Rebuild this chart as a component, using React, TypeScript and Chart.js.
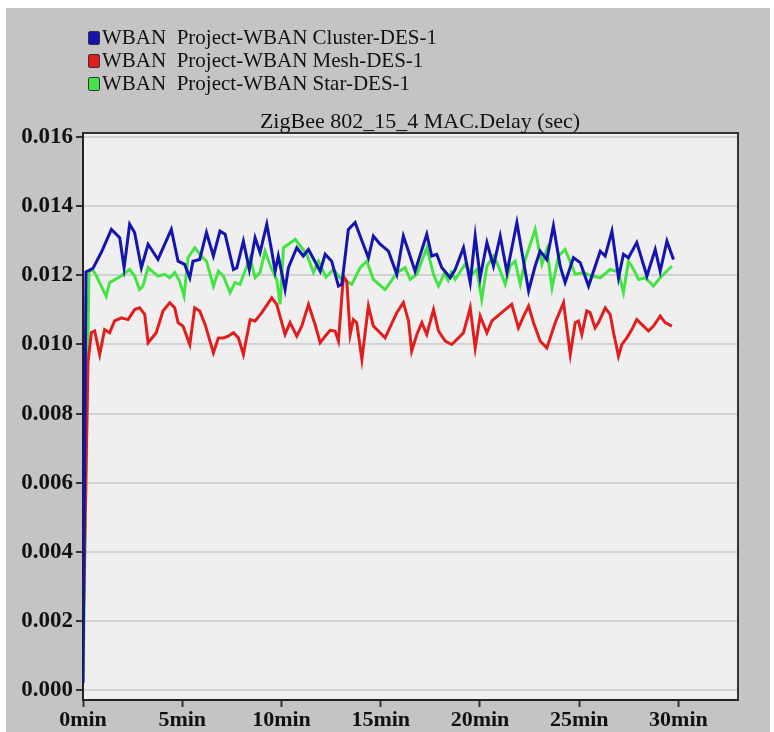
import React, { useEffect, useRef } from "react";
import { Chart, registerables } from "chart.js";

Chart.register(...registerables);

const seriesLabels = [
  "WBAN  Project-WBAN Cluster-DES-1",
  "WBAN  Project-WBAN Mesh-DES-1",
  "WBAN  Project-WBAN Star-DES-1",
];
const seriesColors = ["#1414ae", "#e01e1e", "#44e444"];
const chartTitle = "ZigBee 802_15_4 MAC.Delay (sec)";

const xTickValues = [0, 5, 10, 15, 20, 25, 30];
const yTickValues = [0, 0.002, 0.004, 0.006, 0.008, 0.01, 0.012, 0.014, 0.016];

// Cluster (blue)
const clusterTimes = [
  0, 0.15, 0.5, 0.92, 1.43, 1.85, 2.07, 2.35, 2.6, 2.94, 3.28, 3.78, 4.45, 4.79, 5.12, 5.38, 5.54, 5.88,
  6.22, 6.57, 6.9, 7.16, 7.58, 7.75, 8.08, 8.38, 8.67, 8.92, 9.26, 9.51, 9.68, 9.84, 10.18, 10.35, 10.77,
  11.1, 11.36, 11.95, 12.2, 12.53, 12.87, 13.04, 13.37, 13.71, 13.96, 14.38, 14.63, 14.97, 15.39, 15.81,
  16.14, 16.4, 16.73, 17.32, 17.57, 17.82, 18.08, 18.5, 18.75, 19.17, 19.51, 19.76, 20.01, 20.35, 20.68,
  21.02, 21.36, 21.86, 22.45, 22.78, 23.03, 23.37, 23.7, 24.04, 24.29, 24.71, 25.05, 25.47, 26.06, 26.31,
  26.65, 26.98, 27.23, 27.48, 27.9, 28.41, 28.83, 29.08, 29.42, 29.75,
];
const clusterValues = [
  0.0002, 0.0121, 0.0122, 0.01266, 0.01333, 0.01309, 0.01222, 0.01348, 0.01324, 0.01222, 0.0129, 0.01246,
  0.01333, 0.01241, 0.01232, 0.01193, 0.01241, 0.01246, 0.01324, 0.01256, 0.01328, 0.01319, 0.01217,
  0.01222, 0.01299, 0.01217, 0.01309, 0.01266, 0.01348, 0.0127, 0.01212, 0.01256, 0.01159, 0.01222,
  0.0128, 0.01256, 0.01275, 0.01212, 0.01261, 0.01241, 0.01169, 0.01174, 0.01333, 0.01353, 0.01314,
  0.01251, 0.01314, 0.0129, 0.0127, 0.01203, 0.01314, 0.0127, 0.01212, 0.01319, 0.01256, 0.01261,
  0.01222, 0.01193, 0.01217, 0.0128, 0.01179, 0.01314, 0.01193, 0.01295, 0.01227, 0.01314, 0.01208,
  0.01353, 0.01155, 0.01227, 0.0127, 0.01246, 0.01343, 0.01227, 0.01179, 0.01251, 0.01237, 0.01169,
  0.0127, 0.01256, 0.01328, 0.01193, 0.01261, 0.01251, 0.01295, 0.01198, 0.01275, 0.01212, 0.01299,
  0.01246,
];

// Mesh (red)
const meshTimes = [
  0, 0.25, 0.42, 0.59, 0.84, 1.09, 1.34, 1.59, 1.93, 2.27, 2.6, 2.85, 3.11, 3.28, 3.69, 4.03, 4.37, 4.62,
  4.79, 5.04, 5.38, 5.63, 5.88, 6.15, 6.57, 6.82, 7.07, 7.32, 7.58, 7.83, 8.08, 8.42, 8.67, 9.01, 9.51,
  9.76, 10.18, 10.43, 10.77, 11.02, 11.36, 11.69, 11.95, 12.2, 12.45, 12.7, 12.87, 13.12, 13.29, 13.46,
  13.62, 13.79, 14.05, 14.38, 14.63, 14.88, 15.22, 15.81, 16.14, 16.4, 16.56, 16.82, 17.07, 17.32, 17.66,
  17.91, 18.25, 18.58, 18.92, 19.17, 19.51, 19.76, 20.01, 20.35, 20.6, 21.27, 21.6, 21.94, 22.2, 22.45,
  22.7, 23.03, 23.37, 23.79, 24.21, 24.55, 24.8, 24.96, 25.13, 25.38, 25.55, 25.8, 25.97, 26.31, 26.56,
  26.73, 26.98, 27.15, 27.4, 27.65, 27.9, 28.24, 28.49, 28.74, 29.08, 29.33, 29.67,
];
const meshValues = [
  0.0015, 0.00947, 0.01034, 0.01039, 0.00971, 0.01043, 0.01034, 0.01068, 0.01077, 0.01072, 0.01101,
  0.01106, 0.01087, 0.01005, 0.01034, 0.01097, 0.01121, 0.01106, 0.01063, 0.01053, 0.01, 0.01106,
  0.01097, 0.01058, 0.00976, 0.01019, 0.01019, 0.01024, 0.01034, 0.01019, 0.00971, 0.01072, 0.01068,
  0.01092, 0.01135, 0.01116, 0.01029, 0.01063, 0.01024, 0.01053, 0.01116, 0.01058, 0.01005, 0.01024,
  0.01041, 0.01039, 0.0101, 0.01198, 0.01183, 0.01029, 0.01072, 0.01063, 0.00957, 0.01111, 0.01053,
  0.01039, 0.01019, 0.01092, 0.01121, 0.01068, 0.00981, 0.01029, 0.01063, 0.01029, 0.01101, 0.01039,
  0.0101, 0.01, 0.01019, 0.01034, 0.01106, 0.0099, 0.01082, 0.01034, 0.01068, 0.01101, 0.01116, 0.01048,
  0.01082, 0.01111, 0.01063, 0.0101, 0.0099, 0.01063, 0.01121, 0.00971, 0.01063, 0.01068, 0.01029,
  0.01097, 0.01092, 0.01048, 0.01063, 0.01106, 0.01087, 0.01034, 0.00966, 0.01, 0.01019, 0.01043,
  0.01072, 0.01053, 0.01039, 0.01053, 0.01082, 0.01063, 0.01053,
];

// Star (green)
const starTimes = [
  0, 0.3, 0.42, 0.59, 1.17, 1.34, 1.93, 2.35, 2.6, 2.85, 3.02, 3.28, 3.78, 4.12, 4.37, 4.62, 4.87, 5.09,
  5.29, 5.63, 5.96, 6.22, 6.57, 6.82, 7.07, 7.41, 7.66, 7.91, 8.42, 8.67, 8.92, 9.17, 9.51, 9.76, 9.93,
  10.1, 10.69, 11.02, 11.27, 11.61, 11.86, 12.24, 12.62, 12.95, 13.54, 13.96, 14.3, 14.63, 15.22, 15.47,
  15.81, 16.23, 16.48, 16.82, 17.32, 17.66, 17.91, 18.2, 18.4, 18.55, 18.75, 19.25, 19.59, 19.84, 20.09,
  20.35, 20.68, 20.93, 21.27, 21.52, 21.77, 22.03, 22.28, 22.78, 23.12, 23.37, 23.63, 23.96, 24.29, 24.8,
  25.22, 25.64, 26.06, 26.56, 26.98, 27.23, 27.48, 27.74, 27.99, 28.33, 28.74, 29.08, 29.67,
];
const starValues = [
  0.0002, 0.0121, 0.01217, 0.01208, 0.0114, 0.01179, 0.01198, 0.01217, 0.01198, 0.01159, 0.01169,
  0.01222, 0.01198, 0.01203, 0.01193, 0.01208, 0.01183, 0.0114, 0.01251, 0.0128, 0.01256, 0.01241,
  0.01169, 0.01212, 0.01198, 0.0115, 0.01179, 0.01174, 0.01251, 0.01193, 0.01208, 0.0127, 0.01217,
  0.01188, 0.01116, 0.0128, 0.01304, 0.0128, 0.01261, 0.01208, 0.01241, 0.01195, 0.01217, 0.01193,
  0.01174, 0.01222, 0.01241, 0.01188, 0.01159, 0.01179, 0.01208, 0.01222, 0.01188, 0.01203, 0.0128,
  0.01203, 0.01169, 0.01205, 0.01185, 0.01208, 0.01188, 0.01232, 0.01203, 0.01217, 0.0113, 0.01227,
  0.01256, 0.01227, 0.01174, 0.01227, 0.01241, 0.01174, 0.01246, 0.01333, 0.01232, 0.01275, 0.01164,
  0.01256, 0.01275, 0.01203, 0.01208, 0.01198, 0.01193, 0.01217, 0.0121, 0.0115, 0.01241, 0.01217,
  0.01188, 0.01193, 0.01169, 0.01193, 0.01227,
];

const FONT = "'Liberation Serif', 'Times New Roman', serif";

function toPoints(ts: number[], vs: number[]) {
  return ts.map((t, i) => ({ x: t, y: vs[i] }));
}

export default function App() {
  const canvasRef = useRef<HTMLCanvasElement | null>(null);

  useEffect(() => {
    document.body.style.margin = "0";
    const canvas = canvasRef.current;
    if (!canvas) return;

    const framePlugin = {
      id: "frame",
      beforeDraw(chart: any) {
        const { ctx, chartArea: a } = chart;
        ctx.save();
        ctx.fillStyle = "#ffffff";
        ctx.fillRect(0, 0, chart.width, chart.height);
        ctx.fillStyle = "#c4c4c4";
        ctx.fillRect(6, 8, 764, 724);
        ctx.fillStyle = "#efefef";
        ctx.fillRect(a.left, a.top, a.right - a.left, a.bottom - a.top);
        ctx.restore();
      },
      afterDraw(chart: any) {
        const { ctx, chartArea: a } = chart;
        ctx.save();
        ctx.strokeStyle = "#333333";
        ctx.lineWidth = 2;
        ctx.beginPath();
        ctx.moveTo(a.left, a.top);
        ctx.lineTo(a.right, a.top);
        ctx.lineTo(a.right, a.bottom);
        ctx.stroke();
        ctx.restore();
      },
    };

    const datasets = [
      { label: seriesLabels[0], data: toPoints(clusterTimes, clusterValues), borderColor: seriesColors[0] },
      { label: seriesLabels[1], data: toPoints(meshTimes, meshValues), borderColor: seriesColors[1] },
      { label: seriesLabels[2], data: toPoints(starTimes, starValues), borderColor: seriesColors[2] },
    ].map((d) => ({
      ...d,
      backgroundColor: d.borderColor,
      borderWidth: 3,
      pointRadius: 0,
      tension: 0,
      fill: false,
    }));

    const chart = new Chart(canvas, {
      type: "line",
      data: { datasets },
      plugins: [framePlugin],
      options: {
        animation: false,
        responsive: false,
        devicePixelRatio: 1,
        layout: { padding: { left: 0, right: 36, top: 133, bottom: 0 } },
        plugins: {
          legend: { display: false },
          title: { display: false },
          tooltip: { enabled: false },
        },
        scales: {
          x: {
            type: "linear",
            min: 0,
            max: 33,
            afterFit(scale: any) {
              scale.height = 32;
            },
            afterBuildTicks(scale: any) {
              scale.ticks = xTickValues.map((v) => ({ value: v }));
            },
            ticks: {
              autoSkip: false,
              maxRotation: 0,
              padding: 0,
              color: "#111111",
              font: { family: FONT, size: 22, weight: "bold" },
              callback: (v: any) => `${v}min`,
            },
            grid: {
              drawOnChartArea: false,
              drawTicks: true,
              tickLength: 7,
              tickColor: "#333333",
              tickWidth: 2,
            },
            border: { display: true, color: "#222222", width: 2 },
          },
          y: {
            type: "linear",
            min: -0.00029,
            max: 0.01612,
            afterFit(scale: any) {
              scale.width = 83;
            },
            afterBuildTicks(scale: any) {
              scale.ticks = yTickValues.map((v) => ({ value: v }));
            },
            ticks: {
              autoSkip: false,
              padding: 3,
              color: "#111111",
              font: { family: FONT, size: 23, weight: "bold" },
              callback: (v: any) => Number(v).toFixed(3),
            },
            grid: {
              color: "#d2d2d2",
              lineWidth: 2,
              drawTicks: true,
              tickLength: 7,
              tickColor: "#333333",
              tickWidth: 2,
            },
            border: { display: true, color: "#222222", width: 2 },
          },
        },
      },
    } as any);

    return () => {
      chart.destroy();
    };
  }, []);

  return (
    <div style={{ position: "relative", width: 774, height: 732, fontFamily: FONT }}>
      <canvas
        ref={canvasRef}
        width={774}
        height={732}
        style={{ position: "absolute", left: 0, top: 0, width: 774, height: 732 }}
      />
      <div style={{ position: "absolute", left: 88, top: 26 }}>
        {seriesLabels.map((label, i) => (
          <div
            key={label}
            style={{ display: "flex", alignItems: "center", height: 23, fontSize: 21, color: "#111", whiteSpace: "pre" }}
          >
            <span
              style={{
                display: "inline-block",
                width: 10,
                height: 12,
                marginRight: 2,
                background: seriesColors[i],
                border: "1px solid #333",
                borderRadius: 2,
              }}
            />
            <span>{label}</span>
          </div>
        ))}
      </div>
      <div
        style={{
          position: "absolute",
          left: 0,
          width: 840,
          top: 108,
          textAlign: "center",
          fontSize: 22,
          lineHeight: "26px",
          color: "#111",
          whiteSpace: "pre",
        }}
      >
        {chartTitle}
      </div>
    </div>
  );
}
